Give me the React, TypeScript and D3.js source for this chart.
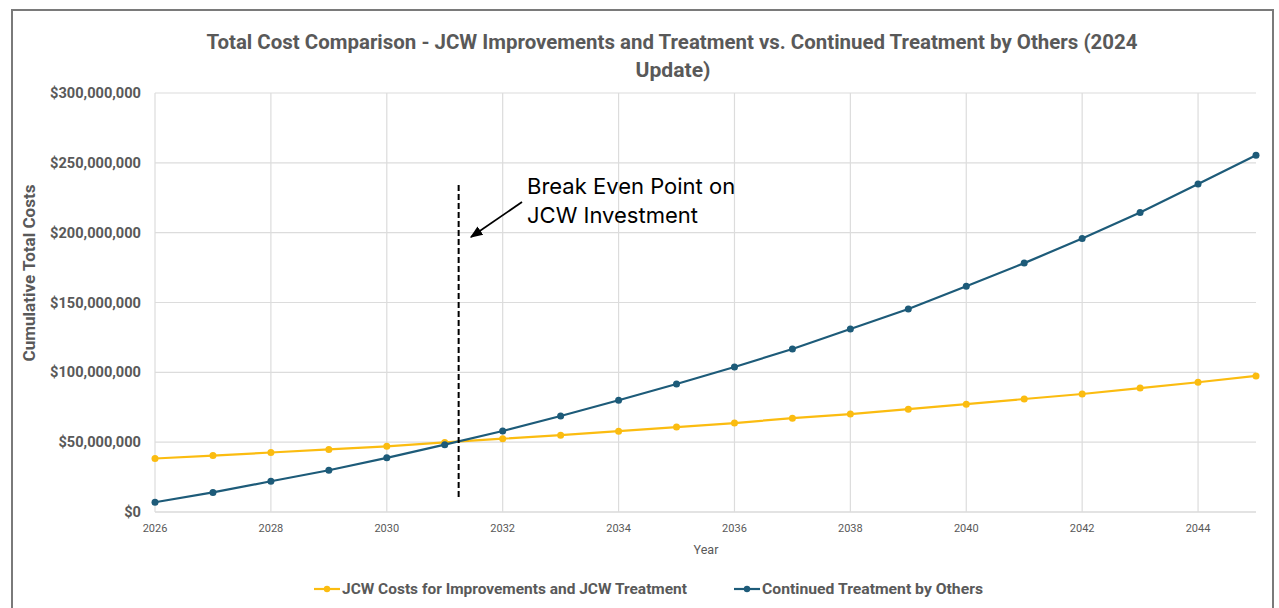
import * as d3 from "d3";

const years: number[] = [2026, 2027, 2028, 2029, 2030, 2031, 2032, 2033, 2034, 2035, 2036, 2037, 2038, 2039, 2040, 2041, 2042, 2043, 2044, 2045];
const jcwCosts: number[] = [38.3, 40.4, 42.6, 44.8, 47.0, 49.8, 52.5, 55.0, 57.9, 60.8, 63.7, 67.2, 70.1, 73.6, 77.2, 80.9, 84.5, 88.7, 92.9, 97.4].map(v => v * 1e6);
const othersCosts: number[] = [7.0, 14.0, 22.0, 29.9, 38.8, 48.2, 58.0, 68.7, 80.0, 91.6, 103.8, 116.7, 131.0, 145.3, 161.6, 178.2, 195.8, 214.5, 234.8, 255.5].map(v => v * 1e6);
const yTicks: number[] = [0, 50e6, 100e6, 150e6, 200e6, 250e6, 300e6];
const xTicks: number[] = [2026, 2028, 2030, 2032, 2034, 2036, 2038, 2040, 2042, 2044];
const breakEvenYear = 2031.24;

const seriesNames = ["JCW Costs for Improvements and JCW Treatment", "Continued Treatment by Others"];
const YELLOW = "#fbbc10";
const BLUE = "#1d5b79";
const GRAY = "#595959";

export default function App() {
  const width = 1279;
  const height = 608;
  const x = d3.scaleLinear().domain([2026, 2045]).range([155, 1256]);
  const y = d3.scaleLinear().domain([0, 300e6]).range([512, 93]);

  const line = d3.line<number>()
    .x((_, i) => x(years[i]))
    .y(d => y(d));

  const fmt = (v: number) => "$" + d3.format(",")(v);
  const series = [
    { name: seriesNames[0], values: jcwCosts, color: YELLOW },
    { name: seriesNames[1], values: othersCosts, color: BLUE },
  ];

  const bx = x(breakEvenYear);

  return (
    <svg width={width} height={height} style={{ position: "absolute", left: 0, top: 0, background: "#fff" }}>
      <defs>
        <marker id="arrow" viewBox="0 0 10 10" refX="9" refY="5" markerWidth="7" markerHeight="7" orient="auto">
          <path d="M0,1 L10,5 L0,9 Z" fill="#000" />
        </marker>
      </defs>
      <rect x={12} y={10} width={1261} height={640} fill="#fff" stroke="#7a7a7a" strokeWidth={2} />

      {/* title */}
      <text x={672} y={49} textAnchor="middle" fontFamily="Roboto" fontWeight={700} fontSize={19.5} fill={GRAY}
        textLength={931} lengthAdjust="spacingAndGlyphs">
        Total Cost Comparison - JCW Improvements and Treatment vs. Continued Treatment by Others (2024
      </text>
      <text x={673} y={77} textAnchor="middle" fontFamily="Roboto" fontWeight={700} fontSize={19.5} fill={GRAY}
        textLength={75} lengthAdjust="spacingAndGlyphs">
        Update)
      </text>

      {/* grid */}
      {yTicks.map(t => (
        <line key={"gy" + t} x1={x(2026)} x2={x(2045)} y1={y(t)} y2={y(t)} stroke={t === 0 ? "#c8c8c8" : "#dcdcdc"} strokeWidth={1.2} />
      ))}
      {xTicks.map(t => (
        <line key={"gx" + t} x1={x(t)} x2={x(t)} y1={y(300e6)} y2={y(0)} stroke="#dcdcdc" strokeWidth={1.2} />
      ))}

      {/* y ticks */}
      {yTicks.map(t => (
        <text key={"ty" + t} x={141} y={y(t) + 5} textAnchor="end" fontFamily="Roboto" fontWeight={700} fontSize={14.6} fill={GRAY}>
          {fmt(t)}
        </text>
      ))}
      <text transform="translate(35,273) rotate(-90)" textAnchor="middle" fontFamily="Roboto" fontWeight={700} fontSize={16} fill={GRAY}
        textLength={177} lengthAdjust="spacingAndGlyphs">
        Cumulative Total Costs
      </text>

      {/* x ticks */}
      {xTicks.map(t => (
        <text key={"tx" + t} x={x(t)} y={532} textAnchor="middle" fontFamily="Roboto" fontSize={11} fill={GRAY}>
          {t}
        </text>
      ))}
      <text x={706} y={554} textAnchor="middle" fontFamily="Roboto" fontSize={12.5} fill={GRAY}>Year</text>

      {/* series */}
      {series.map(s => (
        <g key={s.name}>
          <path d={line(s.values) ?? ""} fill="none" stroke={s.color} strokeWidth={2.2} />
          {s.values.map((v, i) => (
            <circle key={i} cx={x(years[i])} cy={y(v)} r={3.5} fill={s.color} />
          ))}
        </g>
      ))}

      {/* annotation */}
      <line x1={bx} x2={bx} y1={185} y2={499} stroke="#000" strokeWidth={2} strokeDasharray="6,3" />
      <line x1={522} y1={202} x2={471} y2={237} stroke="#000" strokeWidth={1.8} markerEnd="url(#arrow)" />
      <text x={527} y={194} fontFamily="Inter" fontSize={22} fill="#000">Break Even Point on</text>
      <text x={527} y={223} fontFamily="Inter" fontSize={22} fill="#000">JCW Investment</text>

      {/* legend */}
      {series.map((s, i) => {
        const lx = i === 0 ? 314 : 734;
        const tl = i === 0 ? 345 : 221;
        return (
          <g key={"lg" + i}>
            <line x1={lx} x2={lx + 26} y1={589} y2={589} stroke={s.color} strokeWidth={2.2} />
            <circle cx={lx + 13} cy={589} r={3.2} fill={s.color} />
            <text x={lx + 28} y={594} fontFamily="Roboto" fontWeight={700} fontSize={15} fill={GRAY}
              textLength={tl} lengthAdjust="spacingAndGlyphs">{s.name}</text>
          </g>
        );
      })}
    </svg>
  );
}
